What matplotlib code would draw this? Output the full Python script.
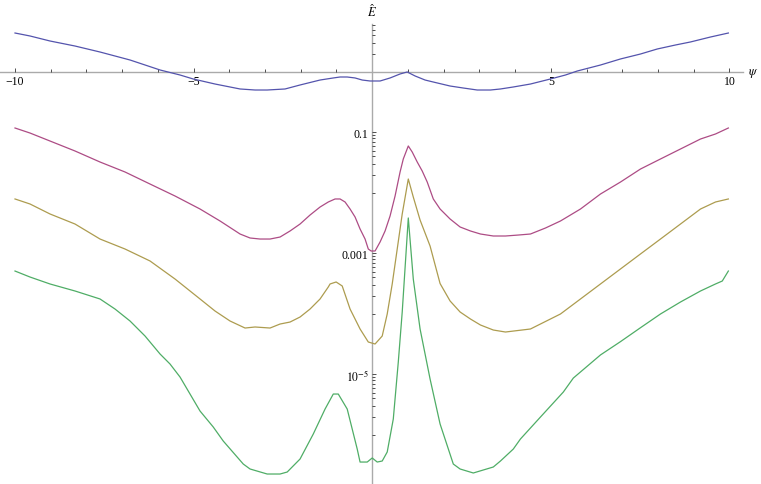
import matplotlib
matplotlib.use("Agg")
import matplotlib.pyplot as plt
import numpy as np
from matplotlib.ticker import FixedLocator, FixedFormatter, NullFormatter

# ---- data (psi, log10 of E-hat) ----
blue_psi = [-10.0, -9.58, -9.02, -8.32, -7.62, -6.78, -5.94, -5.38, -5.01, -4.40, -3.70, -3.28, -2.94,
            -2.44, -2.02, -1.46, -1.09, -0.90, -0.70, -0.48, -0.28, -0.06, 0.08, 0.22, 0.50, 0.78,
            0.98, 1.20, 1.48, 1.71, 2.18, 2.55, 2.94, 3.31, 3.59, 3.95, 4.43, 4.99, 5.41, 5.74,
            6.39, 6.95, 7.51, 7.98, 8.49, 8.91, 9.47, 9.97]
blue_log = [0.641, 0.592, 0.509, 0.426, 0.327, 0.195, 0.030, -0.053, -0.119, -0.202, -0.284, -0.301, -0.301,
            -0.284, -0.218, -0.136, -0.102, -0.086, -0.086, -0.102, -0.136, -0.152, -0.152, -0.152, -0.102, -0.036,
            -0.003, -0.069, -0.136, -0.169, -0.235, -0.268, -0.301, -0.301, -0.284, -0.251, -0.202, -0.119, -0.053, 0.013,
            0.112, 0.212, 0.294, 0.377, 0.443, 0.493, 0.575, 0.641]

magenta_psi = [-10.0, -9.58, -9.02, -8.32, -7.62, -6.92, -6.22, -5.52, -4.82, -4.26, -3.70, -3.42, -3.14,
               -2.86, -2.58, -2.30, -2.02, -1.74, -1.46, -1.23, -1.04, -0.90, -0.76, -0.62, -0.48, -0.34,
               -0.20, -0.11, -0.03, 0.08, 0.22, 0.36, 0.50, 0.64, 0.78, 0.87, 1.01, 1.12, 1.26, 1.40,
               1.54, 1.71, 1.90, 2.18, 2.46, 2.75, 3.03, 3.39, 3.73, 4.09, 4.43, 4.85, 5.27, 5.83,
               6.39, 6.95, 7.51, 8.07, 8.63, 9.19, 9.61, 9.97]
magenta_log = [-0.929, -1.012, -1.144, -1.309, -1.491, -1.656, -1.855, -2.053, -2.268, -2.466, -2.681, -2.747, -2.764,
               -2.764, -2.731, -2.631, -2.516, -2.367, -2.235, -2.152, -2.102, -2.102, -2.152, -2.268, -2.400, -2.598,
               -2.764, -2.929, -2.962, -2.962, -2.813, -2.631, -2.383, -2.053, -1.656, -1.441, -1.226, -1.326, -1.491, -1.640,
               -1.822, -2.102, -2.268, -2.433, -2.565, -2.631, -2.681, -2.714, -2.714, -2.698, -2.681, -2.582, -2.466, -2.268,
               -2.020, -1.822, -1.607, -1.441, -1.276, -1.111, -1.028, -0.929]

olive_psi = [-10.0, -9.58, -9.02, -8.32, -7.62, -6.92, -6.22, -5.52, -4.82, -4.40, -3.98, -3.56, -3.28,
             -2.86, -2.58, -2.30, -2.02, -1.74, -1.46, -1.23, -1.18, -1.01, -0.84, -0.62, -0.34, -0.11,
             0.08, 0.28, 0.42, 0.56, 0.70, 0.84, 1.01, 1.15, 1.34, 1.62, 1.90, 2.18, 2.46, 2.75,
             3.03, 3.39, 3.73, 4.43, 5.27, 5.83, 6.39, 6.95, 7.51, 8.07, 8.63, 9.19, 9.61, 9.97]
olive_log = [-2.102, -2.185, -2.350, -2.516, -2.764, -2.929, -3.127, -3.425, -3.755, -3.954, -4.119, -4.235, -4.218,
             -4.235, -4.169, -4.136, -4.053, -3.921, -3.755, -3.557, -3.507, -3.474, -3.540, -3.921, -4.251, -4.466,
             -4.499, -4.367, -4.003, -3.507, -2.929, -2.350, -1.772, -2.070, -2.450, -2.880, -3.500, -3.788, -3.970, -4.086,
             -4.185, -4.268, -4.301, -4.251, -4.003, -3.755, -3.507, -3.259, -3.011, -2.764, -2.516, -2.268, -2.152, -2.102]

green_psi = [-10.0, -9.58, -9.02, -8.32, -7.62, -7.20, -6.78, -6.36, -5.94, -5.66, -5.38, -5.10, -4.82,
             -4.45, -4.17, -3.61, -3.42, -2.94, -2.58, -2.38, -2.02, -1.65, -1.32, -1.09, -0.95, -0.70,
             -0.42, -0.34, -0.14, 0.0, 0.14, 0.28, 0.42, 0.59, 0.73, 0.84, 1.01, 1.15, 1.34, 1.62,
             1.90, 2.27, 2.46, 2.83, 3.39, 3.59, 3.95, 4.15, 4.71, 5.35, 5.63, 6.39, 6.95, 7.51,
             8.07, 8.63, 9.19, 9.61, 9.80, 9.97]
green_log = [-3.293, -3.392, -3.507, -3.623, -3.755, -3.921, -4.119, -4.367, -4.664, -4.830, -5.045, -5.326, -5.607,
             -5.871, -6.103, -6.483, -6.565, -6.648, -6.648, -6.615, -6.400, -5.987, -5.574, -5.326, -5.326, -5.574,
             -6.235, -6.450, -6.450, -6.383, -6.450, -6.433, -6.284, -5.739, -4.797, -3.970, -2.416, -3.426, -4.251, -5.078,
             -5.821, -6.483, -6.565, -6.631, -6.532, -6.433, -6.235, -6.069, -5.706, -5.293, -5.062, -4.680, -4.460, -4.230,
             -4.003, -3.805, -3.623, -3.507, -3.458, -3.293]

series = [
    (blue_psi, blue_log, "#5454ad"),
    (magenta_psi, magenta_log, "#ad4c85"),
    (olive_psi, olive_log, "#ad9c4f"),
    (green_psi, green_log, "#4fad66"),
]

x_major = [-10, -5, 5, 10]
x_major_labels = ["\u221210", "\u22125", "5", "10"]
x_minor = [-9, -8, -7, -6, -4, -3, -2, -1, 1, 2, 3, 4, 6, 7, 8, 9]
y_major = [1e-1, 1e-3, 1e-5]
y_major_labels = ["0.1", "0.001", "$10^{-5}$"]

plt.rcParams["font.family"] = ["Liberation Serif", "DejaVu Serif"]
plt.rcParams["mathtext.fontset"] = "stix"

fig = plt.figure(figsize=(7.61, 4.85), dpi=100)
ax = fig.add_axes([0.0, 0.0, 743 / 761, 460 / 485])
ax.set_yscale("log")

for px, pl, c in series:
    ax.plot(px, 10.0 ** np.array(pl), color=c, lw=0.9, solid_joinstyle="round")

ax.set_xlim(-10.42, 10.38)
ax.set_ylim(10 ** -6.813, 10 ** 0.790)

for s in ["top", "right"]:
    ax.spines[s].set_visible(False)
ax.spines["left"].set_position(("data", 0))
ax.spines["bottom"].set_position(("data", 1))
for s in ["left", "bottom"]:
    ax.spines[s].set_color("#aaaaaa")
    ax.spines[s].set_linewidth(1.0)
    ax.spines[s].set_zorder(0.5)

ax.xaxis.set_major_locator(FixedLocator(x_major))
ax.xaxis.set_major_formatter(FixedFormatter(x_major_labels))
ax.xaxis.set_minor_locator(FixedLocator(x_minor))
ax.xaxis.set_minor_formatter(NullFormatter())

minor_y = []
for m in [1, -1, -3, -5]:
    for k in range(1, 10):
        v = k * 10.0 ** (m - 1)
        if v != 1.0:
            minor_y.append(v)
ax.yaxis.set_major_locator(FixedLocator(y_major))
ax.yaxis.set_major_formatter(FixedFormatter(y_major_labels))
ax.yaxis.set_minor_locator(FixedLocator(minor_y))
ax.yaxis.set_minor_formatter(NullFormatter())

ax.tick_params(axis="both", which="major", direction="in", length=3.2, width=0.6,
               color="#333333", labelsize=8.5, pad=2.5)
ax.tick_params(axis="both", which="minor", direction="in", length=2.0, width=0.6,
               color="#333333")

fig.text(372 / 761, 1 - 12 / 485, "$\\hat{E}$", ha="center", va="center", fontsize=9)
fig.text(753 / 761, 1 - 73 / 485, "$\\psi$", ha="center", va="center", fontsize=9)

fig.savefig("out.png", dpi=100)
